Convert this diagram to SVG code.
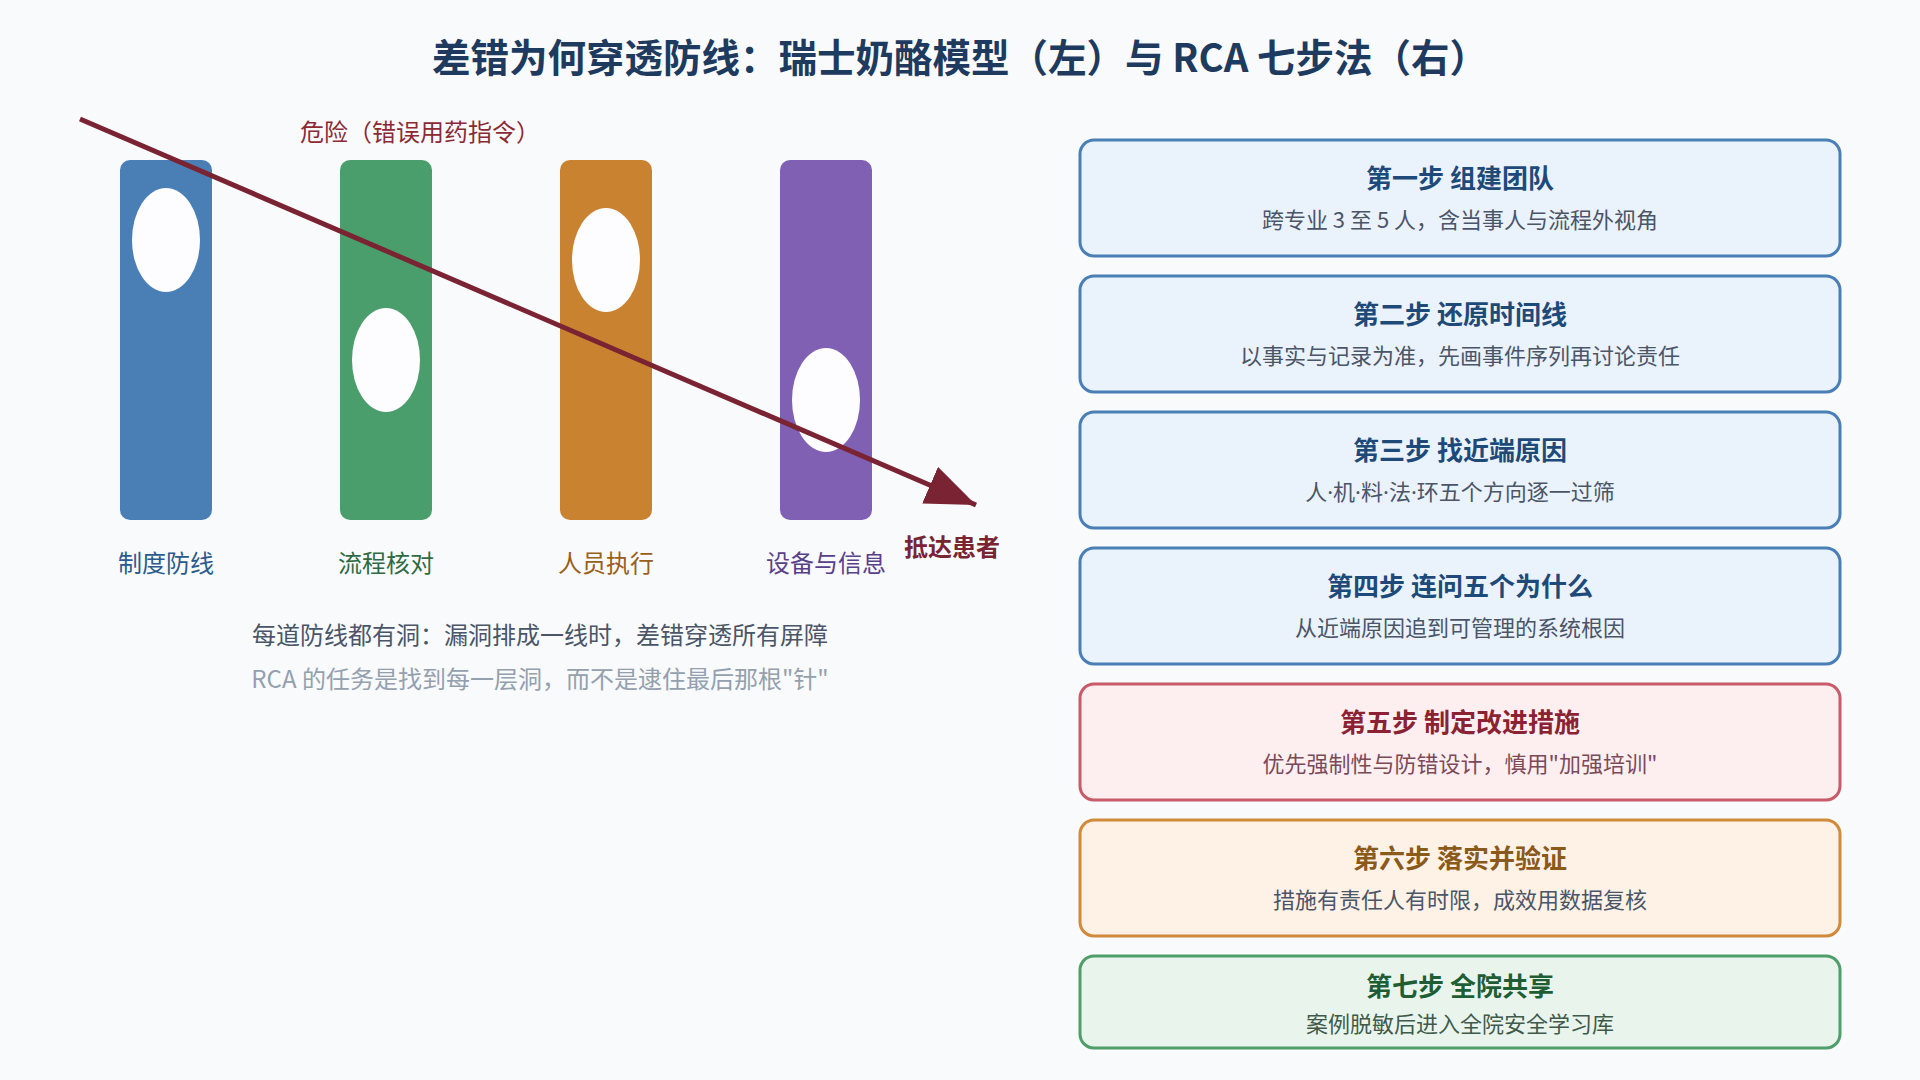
<svg xmlns="http://www.w3.org/2000/svg" width="1920" height="1080" viewBox="0 0 1920 1080">
<defs>
<style>
text{font-family:"Noto Sans CJK SC","Noto Sans",sans-serif;}
.title{font-size:38.5px;font-weight:700;fill:#1e3a5f;}
.lbl{font-size:24px;text-anchor:middle;}
.hole{fill:#fdfdff;}
.box{stroke-width:3;}
.bt{font-size:26px;font-weight:700;text-anchor:middle;}
.bs{font-size:22px;text-anchor:middle;}
.dot{font-family:"Noto Sans","DejaVu Sans",sans-serif;}
.blue rect{fill:#eaf2fb;stroke:#4a7fb5;}
.blue .bt{fill:#1e4a7a;}
.blue .bs{fill:#4a5568;}
.red rect{fill:#fdeef0;stroke:#c85a6a;}
.red .bt{fill:#8b2233;}
.red .bs{fill:#7a4a58;}
.orange rect{fill:#fef1e6;stroke:#d08a3a;}
.orange .bt{fill:#8a5a1a;}
.orange .bs{fill:#4a5568;}
.green rect{fill:#e9f5ec;stroke:#4f9e6a;}
.green .bt{fill:#1f5e35;}
.green .bs{fill:#3f5a4a;}
</style>
<marker id="ah" viewBox="0 0 10 8" refX="10" refY="4" markerWidth="10" markerHeight="8" markerUnits="strokeWidth" orient="auto">
<path d="M0,0 L10,4 L0,8 Z" fill="#7a2332"/>
</marker>
</defs>
<rect width="1920" height="1080" fill="#f8fafc"/>
<text class="title" x="960" y="72" text-anchor="middle">差错为何穿透防线：瑞士奶酪模型（左）与 RCA 七步法（右）</text>

<g id="layer1">
<rect x="120" y="160" width="92" height="360" rx="10" fill="#4a7fb5"/>
<ellipse class="hole" cx="166" cy="240" rx="34" ry="52"/>
<text class="lbl" x="166" y="572" fill="#2b5a8c">制度防线</text>
</g>
<g id="layer2">
<rect x="340" y="160" width="92" height="360" rx="10" fill="#4a9e6b"/>
<ellipse class="hole" cx="386" cy="360" rx="34" ry="52"/>
<text class="lbl" x="386" y="572" fill="#2e6b45">流程核对</text>
</g>
<g id="layer3">
<rect x="560" y="160" width="92" height="360" rx="10" fill="#c98230"/>
<ellipse class="hole" cx="606" cy="260" rx="34" ry="52"/>
<text class="lbl" x="606" y="572" fill="#9a5f1a">人员执行</text>
</g>
<g id="layer4">
<rect x="780" y="160" width="92" height="360" rx="10" fill="#7f60b3"/>
<ellipse class="hole" cx="826" cy="400" rx="34" ry="52"/>
<text class="lbl" x="826" y="572" fill="#5a3f8a">设备与信息</text>
</g>

<g id="connectors">
<line x1="80" y1="119" x2="976" y2="505" stroke="#7a2332" stroke-width="5" marker-end="url(#ah)"/>
</g>

<text class="lbl" x="420" y="141" fill="#8b2a35">危险（错误用药指令）</text>
<text class="lbl" x="952" y="556" fill="#7a2332" font-weight="700">抵达患者</text>
<text class="lbl" x="540" y="644" fill="#4a5568">每道防线都有洞：漏洞排成一线时，差错穿透所有屏障</text>
<text class="lbl" x="540" y="688" fill="#94a0ae">RCA 的任务是找到每一层洞，而不是逮住最后那根"针"</text>

<g id="step1" class="blue">
<rect class="box" x="1080" y="140" width="760" height="116" rx="14"/>
<text class="bt" x="1460" y="188">第一步 组建团队</text>
<text class="bs" x="1460" y="228">跨专业 3 至 5 人，含当事人与流程外视角</text>
</g>
<g id="step2" class="blue">
<rect class="box" x="1080" y="276" width="760" height="116" rx="14"/>
<text class="bt" x="1460" y="324">第二步 还原时间线</text>
<text class="bs" x="1460" y="364">以事实与记录为准，先画事件序列再讨论责任</text>
</g>
<g id="step3" class="blue">
<rect class="box" x="1080" y="412" width="760" height="116" rx="14"/>
<text class="bt" x="1460" y="460">第三步 找近端原因</text>
<text class="bs" x="1460" y="500">人<tspan class="dot">·</tspan>机<tspan class="dot">·</tspan>料<tspan class="dot">·</tspan>法<tspan class="dot">·</tspan>环五个方向逐一过筛</text>
</g>
<g id="step4" class="blue">
<rect class="box" x="1080" y="548" width="760" height="116" rx="14"/>
<text class="bt" x="1460" y="596">第四步 连问五个为什么</text>
<text class="bs" x="1460" y="636">从近端原因追到可管理的系统根因</text>
</g>
<g id="step5" class="red">
<rect class="box" x="1080" y="684" width="760" height="116" rx="14"/>
<text class="bt" x="1460" y="732">第五步 制定改进措施</text>
<text class="bs" x="1460" y="772">优先强制性与防错设计，慎用"加强培训"</text>
</g>
<g id="step6" class="orange">
<rect class="box" x="1080" y="820" width="760" height="116" rx="14"/>
<text class="bt" x="1460" y="868">第六步 落实并验证</text>
<text class="bs" x="1460" y="908">措施有责任人有时限，成效用数据复核</text>
</g>
<g id="step7" class="green">
<rect class="box" x="1080" y="956" width="760" height="92" rx="14"/>
<text class="bt" x="1460" y="996">第七步 全院共享</text>
<text class="bs" x="1460" y="1032">案例脱敏后进入全院安全学习库</text>
</g>
</svg>
